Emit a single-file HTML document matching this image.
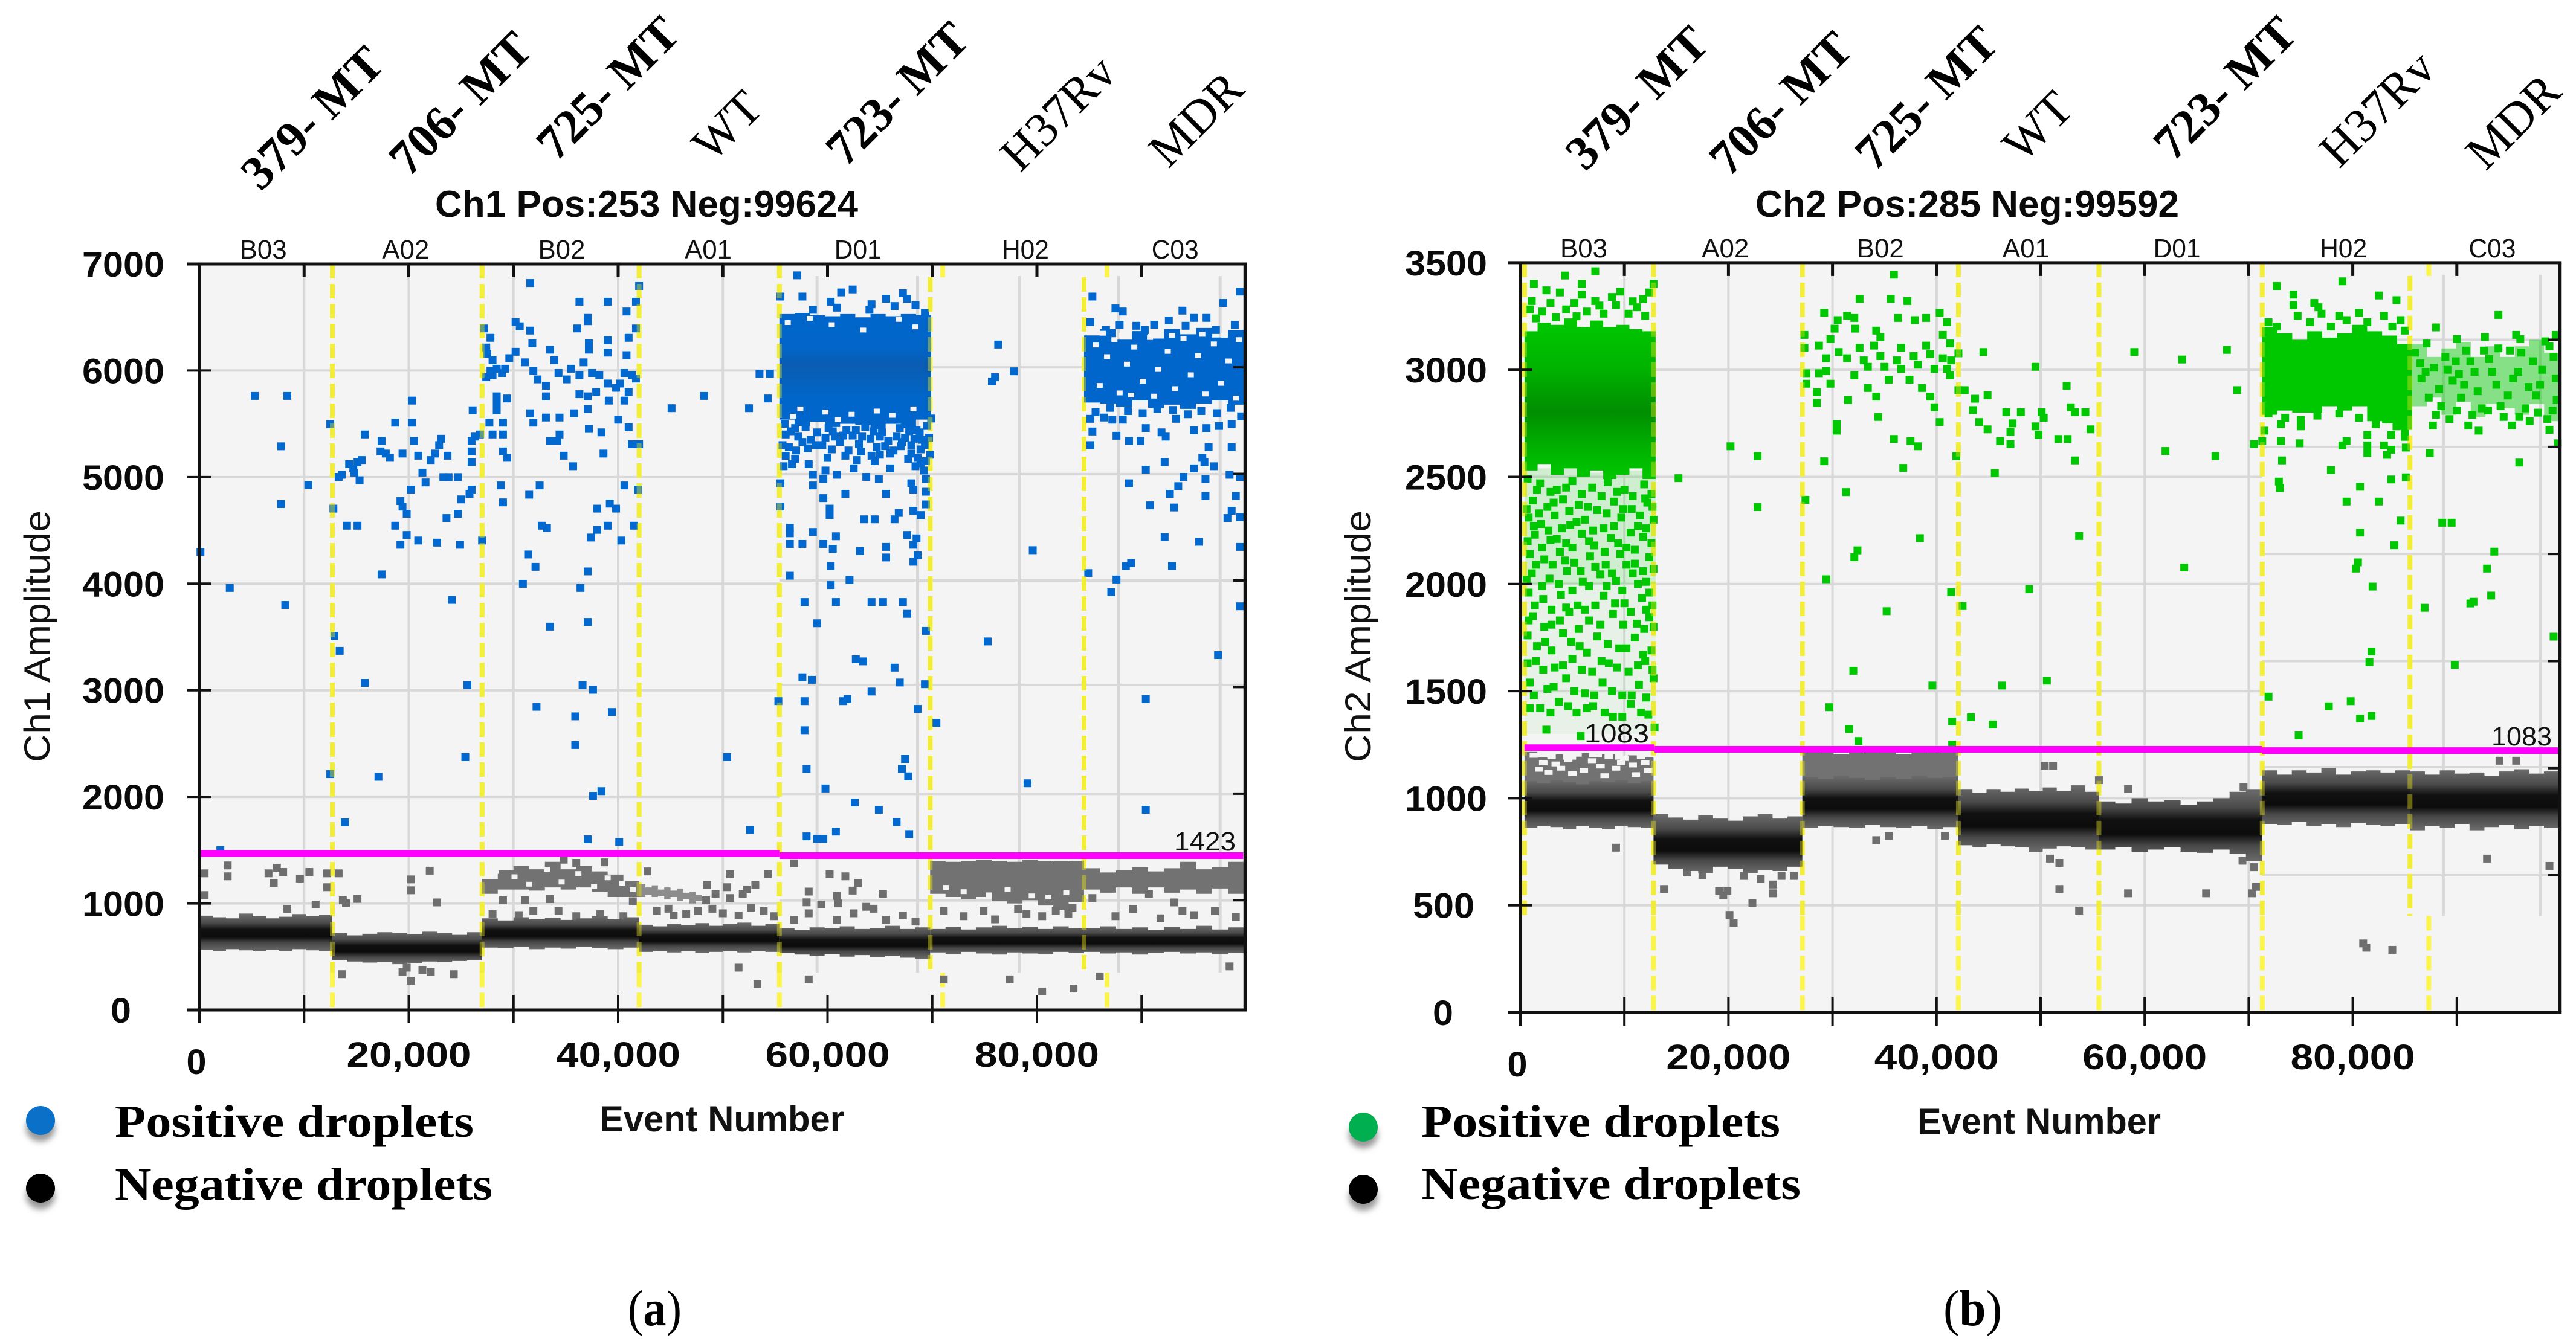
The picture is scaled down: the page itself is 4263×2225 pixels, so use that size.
<!DOCTYPE html>
<html lang="en">
<head>
<meta charset="utf-8">
<title>Droplet digital PCR amplitude plots</title>
<style>
html,body{margin:0;padding:0;background:#fff;width:4263px;height:2225px;overflow:hidden}
svg{display:block}
.tick{font-family:"Liberation Sans",Arial,sans-serif;font-weight:bold;font-size:58px;fill:#0a0a0a}
.well{font-family:"Liberation Sans",Arial,sans-serif;font-size:44px;fill:#111}
.title{font-family:"Liberation Sans",Arial,sans-serif;font-weight:bold;font-size:62px;fill:#0a0a0a}
.axis{font-family:"Liberation Sans",Arial,sans-serif;font-size:60px;fill:#111}
.axisb{font-family:"Liberation Sans",Arial,sans-serif;font-weight:bold;font-size:60px;fill:#111}
.leg{font-family:"Liberation Serif",serif;font-weight:bold;font-size:76px;fill:#000}
.rot{font-family:"Liberation Serif",serif;font-size:80px;fill:#000}
.rotb{font-family:"Liberation Serif",serif;font-weight:bold;font-size:80px;fill:#000}
.thr{font-family:"Liberation Sans",Arial,sans-serif;font-size:44px;fill:#111}
.cap{font-family:"Liberation Serif",serif;font-size:84px;fill:#000}
</style>
</head>
<body>
<svg id="figure" xmlns="http://www.w3.org/2000/svg" width="4263" height="2225" viewBox="0 0 4263 2225">
<defs>
<linearGradient id="negGrad" x1="0" y1="0" x2="0" y2="1">
<stop offset="0" stop-color="#6c6c6c"/><stop offset=".25" stop-color="#4a4a4a"/><stop offset=".42" stop-color="#111"/><stop offset=".62" stop-color="#0c0c0c"/><stop offset=".78" stop-color="#484848"/><stop offset="1" stop-color="#6c6c6c"/>
</linearGradient>
<linearGradient id="blueGrad" x1="0" y1="0" x2="0" y2="1">
<stop offset="0" stop-color="#0066cc"/><stop offset=".3" stop-color="#0265c8"/><stop offset=".45" stop-color="#0a5cb2"/><stop offset=".62" stop-color="#0563bf"/><stop offset=".75" stop-color="#0066cc"/><stop offset="1" stop-color="#0066cc"/>
</linearGradient>
<linearGradient id="greenGrad" x1="0" y1="0" x2="0" y2="1">
<stop offset="0" stop-color="#00c800"/><stop offset=".3" stop-color="#00b400"/><stop offset=".58" stop-color="#008e00"/><stop offset=".8" stop-color="#00b000"/><stop offset="1" stop-color="#00c800"/>
</linearGradient>
<filter id="soft" x="-40%" y="-40%" width="180%" height="180%"><feGaussianBlur stdDeviation="5"/></filter>
</defs>

<g id="panel-a"></g>
<g id="panel-b"></g>

<g>
<text class="title" x="720" y="359" textLength="700" lengthAdjust="spacingAndGlyphs">Ch1 Pos:253 Neg:99624</text>
<text class="axis" transform="translate(82,1262) rotate(-90)" textLength="417" lengthAdjust="spacingAndGlyphs">Ch1 Amplitude</text>
<text class="axisb" x="992" y="1873" textLength="405" lengthAdjust="spacingAndGlyphs">Event Number</text>
<text class="thr" x="1943" y="1408" textLength="102" lengthAdjust="spacingAndGlyphs">1423</text>
<ellipse cx="67" cy="1868" rx="24" ry="22" fill="#999" filter="url(#soft)"/>
<ellipse cx="67" cy="1855" rx="24" ry="24" fill="#0a70c8"/>
<text class="leg" x="190" y="1882" textLength="594" lengthAdjust="spacingAndGlyphs">Positive droplets</text>
<ellipse cx="67" cy="1980" rx="24" ry="22" fill="#999" filter="url(#soft)"/>
<ellipse cx="67" cy="1967" rx="24" ry="24" fill="#000"/>
<text class="leg" x="190" y="1986" textLength="625" lengthAdjust="spacingAndGlyphs">Negative droplets</text>
<text class="cap" x="1039" y="2194" textLength="89" lengthAdjust="spacingAndGlyphs">(<tspan font-weight="bold">a</tspan>)</text>
<g>
<text class="rotb" text-anchor="middle" transform="translate(516,194) rotate(-45)" y="28">379- MT</text>
<text class="rotb" text-anchor="middle" transform="translate(761,170) rotate(-45)" y="28">706- MT</text>
<text class="rotb" text-anchor="middle" transform="translate(1005,145) rotate(-45)" y="28">725- MT</text>
<text class="rot" text-anchor="middle" transform="translate(1202,207) rotate(-45)" y="28">WT</text>
<text class="rotb" text-anchor="middle" transform="translate(1484,154) rotate(-45)" y="28">723- MT</text>
<text class="rot" text-anchor="middle" transform="translate(1750,186) rotate(-45)" y="28">H37Rv</text>
<text class="rot" text-anchor="middle" transform="translate(1978,196) rotate(-45)" y="28">MDR</text>
</g>
</g>

<g>
<text class="title" x="2905" y="359" textLength="701" lengthAdjust="spacingAndGlyphs">Ch2 Pos:285 Neg:99592</text>
<text class="axis" transform="translate(2268,1262) rotate(-90)" textLength="417" lengthAdjust="spacingAndGlyphs">Ch2 Amplitude</text>
<text class="axisb" x="3173" y="1877" textLength="403" lengthAdjust="spacingAndGlyphs">Event Number</text>
<text class="thr" x="2622" y="1229" textLength="107" lengthAdjust="spacingAndGlyphs">1083</text>
<text class="thr" x="4123" y="1234" textLength="100" lengthAdjust="spacingAndGlyphs">1083</text>
<ellipse cx="2256" cy="1879" rx="24" ry="22" fill="#999" filter="url(#soft)"/>
<ellipse cx="2256" cy="1866" rx="24" ry="24" fill="#00b050"/>
<text class="leg" x="2352" y="1882" textLength="594" lengthAdjust="spacingAndGlyphs">Positive droplets</text>
<ellipse cx="2256" cy="1982" rx="24" ry="22" fill="#999" filter="url(#soft)"/>
<ellipse cx="2256" cy="1969" rx="24" ry="24" fill="#000"/>
<text class="leg" x="2352" y="1985" textLength="628" lengthAdjust="spacingAndGlyphs">Negative droplets</text>
<text class="cap" x="3216" y="2194" textLength="97" lengthAdjust="spacingAndGlyphs">(<tspan font-weight="bold">b</tspan>)</text>
<g>
<text class="rotb" text-anchor="middle" transform="translate(2708,161) rotate(-45)" y="28">379- MT</text>
<text class="rotb" text-anchor="middle" transform="translate(2946,170) rotate(-45)" y="28">706- MT</text>
<text class="rotb" text-anchor="middle" transform="translate(3187,161) rotate(-45)" y="28">725- MT</text>
<text class="rot" text-anchor="middle" transform="translate(3371,208) rotate(-45)" y="28">WT</text>
<text class="rotb" text-anchor="middle" transform="translate(3681,145) rotate(-45)" y="28">723- MT</text>
<text class="rot" text-anchor="middle" transform="translate(3933,179) rotate(-45)" y="28">H37Rv</text>
<text class="rot" text-anchor="middle" transform="translate(4158,200) rotate(-45)" y="28">MDR</text>
</g>
</g>
</svg>

<script>
/* ---------- Shared tick data (events in thousands) ---------- */
const xTickEvents = [0,10,20,30,40,50,60,70,80,90];
const xLabelEvents = [0,20,40,60,80];
const xLabelText = ["0","20,000","40,000","60,000","80,000"];
const wellNames = ["B03","A02","B02","A01","D01","H02","C03"];

/* ---------- Ch1 data ---------- */
const ch1YTicks = [0,1000,2000,3000,4000,5000,6000,7000];
const ch1WellLabelEvents = [6.1,19.7,34.6,48.6,62.9,78.9,93.2];
const ch1Dividers = [12.7,27,42,55.4,69.8,84.5];
const ch1LowerDividers = [12.7,27,42,55.4,71,86.7];
const ch1ShiftedGridEvents = [59,68.6,78.3,87.8,97.5];
const ch1ShiftedGridAmps = [1028,2028,3050,4030,5028,6030];
const ch1ThresholdStart = [0,55.4];
const ch1ThresholdEnd = [55.4,99.7];
const ch1ThresholdAmp = [1468,1448];
const ch1NegStart = [0,12.7,27,42,55.4,69.8,84.5];
const ch1NegEnd = [12.7,27,42,55.4,69.8,84.5,99.8];
const ch1NegTop = [
 [885,870,860,905,880,860,875,900,880,895],
 [720,700,715,730,725,710,735,720,705,730],
 [860,840,870,850,865,845,860,880,850,870],
 [800,785,810,795,815,790,805,820,790,810],
 [770,750,775,765,785,760,770,790,760,775],
 [760,780,755,775,790,765,780,760,785,770],
 [765,785,760,775,750,780,760,790,755,775]];
const ch1NegBottom = [
 [565,555,570,560,550,565,555,570,560,555],
 [470,455,445,450,430,440,455,450,460,465],
 [585,580,590,570,585,575,590,580,570,585],
 [545,555,540,550,535,545,555,540,550,545],
 [535,520,510,525,500,515,495,510,490,480],
 [540,525,545,530,520,540,530,525,545,535],
 [545,530,540,520,535,545,530,540,525,535]];
const ch1RainStart = [27,42,69.8,84.5];
const ch1RainEnd = [42,48,84.5,99.8];
const ch1RainTop = [
 [1230,1310,1350,1320,1390,1320,1350,1300,1270,1210],
 [1180,1150,1170,1130,1150,1120,1140,1100,1110,1080],
 [1400,1390,1400,1410,1400,1390,1410,1400,1395,1400],
 [1330,1290,1310,1340,1300,1330,1390,1320,1340,1390]];
const ch1RainBottom = [
 [1090,1130,1130,1120,1150,1130,1150,1110,1060,1060],
 [1060,1080,1060,1070,1040,1060,1020,1040,1000,1020],
 [1090,1060,1040,1060,1020,1000,1030,980,940,1010],
 [1130,1100,1150,1090,1150,1100,1130,1090,1140,1090]];
const ch1ClusterStart = [55.4,84.5];
const ch1ClusterEnd = [69.9,99.8];
const ch1ClusterTop = [
 [6530,6540,6520,6510,6530,6500,6530,6510,6530,6520],
 [6330,6390,6290,6370,6300,6390,6340,6400,6310,6380]];
const ch1ClusterBottom = [
 [5540,5480,5520,5470,5500,5490,5450,5500,5460,5540],
 [5700,5690,5660,5720,5650,5680,5640,5690,5720,5680]];
const ch1HazeStart = [];
const ch1HazeEnd = [];
const ch1HazeTop = [];
const ch1HazeBottom = [];
const ch1Gaps = [
[85.6,6240],[86.7,6130],[87.4,6290],[88.6,6060],[89.3,6220],[90.1,5900],[90.8,6310],[91.6,6010],[92.5,6180],[93.2,5830],[94,6300],[94.7,5960],[95.4,6140],[96.1,5780],[96.9,6250],[97.6,5880],[98.3,6090],[99,5740],[99.3,6290],[86,5860],[87.9,5790],[89,5770],[91.2,5760],[92.9,6330],[95.8,6340],[88.1,6330],[86.3,6350],[97.9,6330],
[56.2,6450],[58.3,6490],[60.4,6430],[63.4,6380],[66.8,6480],[68.4,6410],[57.4,5640],[59.8,5610],[62.3,5590],[64.7,5620],[66.2,5580],[68.2,5640],[56.7,5570],[61,5540],
[28.3,1300],[30.1,1250],[31.5,1180],[33.2,1320],[34.6,1200],[36.2,1280],[37.7,1160],[39,1240],[40.4,1190],[41.4,1130],
[73,1110],[75.4,1080],[77.2,1130],[79.5,1070],[81.1,1060],[82.8,1100],[71.3,1150]];
const ch1Positive = [
[.1,4298],[2.9,3960],[5.3,5762],[8.4,5762],[7.8,5289],[7.8,4747],[8.2,3800],[10.4,4926],[12.5,5496],[12.8,4704],[12.9,3510],[13.4,3370],[2,1500],
[15.8,5400],[13.3,5002],[13.6,5022],[14.3,5121],[14.7,5082],[15.1,5141],[15.5,5160],[14.8,5042],[15.3,4970],[14.1,4544],[15.1,4544],[17.4,5340],[17.3,5241],[17.8,5221],[18.2,5181],[18.7,5511],[20.3,5511],[20.3,5718],[20.5,5340],[19.4,5221],[20.9,5201],[23.1,5360],[22.9,5300],[22.5,5221],[23.7,5201],[22.1,5160],[21.3,5042],[21.6,4950],[23.3,5000],[23.8,5000],[24.7,5000],[20.2,4883],[19.2,4775],[19.4,4723],[19.8,4656],[18.7,4544],[19.8,4457],[20.9,4405],[22.7,4385],[19.2,4365],[24.9,4365],[17.4,4087],[24.1,3848],[23.6,4616],[24.7,4656],[25,4791],[25.8,4843],[26,4883],[26.1,5627],[26,5340],[26,5241],[26,5141],[26.3,5380],[26.8,5400],[27,4405],
[27.2,6395],[27.8,6307],[27.4,6216],[27.5,6156],[28,6097],[28.4,6017],[27.8,5997],[27.4,5937],[28,5957],[28.9,5977],[29.2,6017],[29.6,6116],[30.2,6176],[30.2,6455],[30.6,6415],[31.6,6375],[31.8,6256],[31.6,6821],[31.1,6077],[31.9,5997],[32.3,5917],[33.1,5858],[33.5,6196],[33.9,6097],[34.3,5977],[35.1,5917],[35.5,6017],[36.7,6077],[36.3,5957],[37.5,5977],[38.2,5957],[36.3,5778],[37.1,5758],[37.9,5798],[39,5878],[40.2,5878],[40.6,5977],[41.3,5957],[41.7,5925],[39.8,5838],[41,5798],[40.6,5718],[39.1,5718],[36.3,6646],[39,6646],[41.7,6646],[42,6793],[37.1,6494],[37.1,6463],[40.8,6554],[36.1,6395],[41.7,6395],[41,6307],[39,6284],[37.2,6256],[37.2,6196],[39,6168],[40.8,6144],[28.4,5758],[29.4,5738],[28.4,5699],[28.4,5627],[31.6,5599],[33.1,5758],[33.1,5559],[34.4,5559],[35.8,5599],[37.1,5639],[40,5539],[27.7,5511],[29,5511],[31.9,5511],[28,5400],[29,5400],[37.2,5452],[38.4,5420],[41,5468],[34.4,5400],[33.5,5340],[34.2,5340],[41.3,5308],[42,5308],[38.6,5221],[29.4,5181],[29,5241],[34.8,5201],[35.7,5102],[28.8,4922],[32.5,4922],[31.5,4835],[40.6,4922],[41.9,4883],[29,4763],[39.2,4751],[38,4704],[39.8,4704],[32.7,4544],[33.2,4524],[39,4544],[41.5,4544],[38,4505],[37.4,4433],[40.3,4405],[31.4,4274],[32.1,4158],[37.1,4115],[30.9,3999],[36.4,3960],[33.5,3597],[37.1,3641],
[45.1,5647],[48.2,5762],[52.5,5647],[53.5,5969],[54.5,5969],[54.3,5738],
[12.5,2213],[13.9,1760],[15.8,3069],[17.1,2188],[25.6,3049],[25.4,2372],[32.2,2845],[35.9,2755],[36.6,3049],[37.6,3004],[39.4,2796],[35.9,2486],[37.6,2009],[38.4,2053],[37.1,1601],[40.1,1576],[50.4,2372],[52.6,1690],
[57.6,3122],[58.5,3098],[55.3,2898],[57.8,2898],[61.5,2898],[61.9,2918],[64.2,2988],[66.4,3212],[66.9,3073],[69.3,3057],[68.6,2825],[70.4,2694],[57.8,2625],[58,2262],[67.4,2355],[67.1,2262],[67.7,2192],[59.8,2078],[62.6,1947],[64.9,1878],[66.6,1764],[67.8,1650],[60.8,1674],[58,1629],[59,1605],[59.6,1605],
[79.1,2127],[90.4,2918],[90.4,1878],
[57.1,6893],[55.5,6694],[57.6,6694],[61.3,6733],[62.4,6761],[60.3,6646],[67.2,6725],[67.6,6674],[65.6,6674],[64.2,6622],[68.4,6614],[64,6570],[60.9,6590],[58.6,6570],[66.4,6605],[69.3,6540],
[55.9,5500],[56.5,5430],[57.2,5380],[57.9,5470],[58.4,5350],[59,5420],[59.5,5300],[60.1,5460],[60.7,5380],[61.2,5330],[61.8,5440],[62.4,5390],[63,5310],[63.6,5470],[64.1,5360],[64.7,5280],[65.2,5420],[65.8,5340],[66.3,5250],[66.9,5460],[67.4,5370],[68,5300],[68.5,5440],[69,5350],[69.5,5480],[55.7,5300],[56.3,5280],[57,5250],[58.1,5270],[60.4,5260],[62,5250],[63.2,5240],[65,5210],[67,5290],[68.9,5260],[69.7,5370],[69.9,5550],
[56,5400],[56.9,5460],[57.6,5330],[58.9,5300],[59.8,5370],[60.5,5430],[61.5,5390],[62.7,5440],[63.3,5380],[64.4,5430],[65,5380],[65.5,5290],[66.6,5380],[67.1,5330],[67.8,5430],[68.3,5360],[68.8,5420],[69.3,5300],[69.8,5210],[69.4,5150],[68.6,5180],[67.7,5170],[68.9,5130],[56,5200],[56.9,5170],[60,5180],[62.8,5160],[64.5,5150],
[55.8,5102],[56.6,5121],[55.5,4942],[55.5,4724],[58.2,5121],[58.6,5022],[59.8,5062],[61.7,5201],[64.2,5201],[66,5221],[68,5221],[68.4,5102],[69.2,5062],[69.4,4982],[62.5,5082],[63.7,5002],[64.9,4982],[66,5082],[59.6,4982],[60.9,5022],[58.6,4922],[61.7,4843],[65.6,4843],[68,4942],[68.2,4883],[59.6,4803],[60.2,4704],[60.2,4644],[63.5,4604],[64.5,4604],[66.8,4664],[66.4,4604],[68.2,4684],[68.9,4644],[69.4,4744],[69.4,4863],
[56.4,4524],[56.4,4473],[58.6,4485],[60.8,4445],[56.4,4373],[57.6,4373],[59.6,4373],[60.5,4326],[63.1,4306],[65.6,4345],[67.6,4457],[68.5,4425],[68.2,4365],[65.6,4246],[68.6,4266],[68.2,4206],[60.3,4166],[56.4,4075],[62.1,4035],[60.3,3987],[57.8,3828],[60.8,3828],[64.2,3828],[65.3,3828],[67.2,3828],[67.6,3717],[59,3629],[69.4,3557],[62.7,3291],[63.4,3271],
[76.3,6244],[77.8,5993],[75.7,5898],[76,5937],[79.6,4314],[75.3,3458],
[85.3,6694],[87.5,6583],[88.2,6554],[93.9,6562],[97.8,6634],[99.4,6741],[95,6494],[96.2,6494],[85.1,6455],[89.5,6420],[91.2,6430],[92.6,6470],[98.9,6430],[86.6,6380],[87.9,6430],[90.3,6380],[94.2,6420],[97.1,6380],
[85.1,5547],[86.4,5559],[87.2,5539],[88.2,5539],[85.3,5428],[87.6,5388],[88.8,5340],[89.9,5340],[90.4,5460],[91.9,5420],[92.3,5380],[93.3,5547],[85.1,5300],[95,5440],[96.2,5460],[97.4,5480],[98.6,5499],[98.6,5281],[96.4,5281],[95.8,5181],[96,5141],[96.9,5102],[95,5082],[92.2,5141],[90.4,5070],[98.4,5022],[99.4,5002],[94,5002],[96.1,4982],[88.8,4942],[93.5,4915],[92.7,4843],[96.1,4823],[99,4823],[90.8,4735],[93.1,4715],[98.6,4684],[99.4,4624],[98.2,4616],[92.2,4437],[95.5,4393],[99.4,4345],[88.5,4166],[89,4194],[92.9,4166],[84.9,4099],[87.6,4039],[87.1,3920],[99.4,3788],[97.3,3330],
[85.6,5610],[87,5650],[88.7,5620],[90.1,5600],[91.5,5640],[93,5630],[94.4,5590],[95.7,5620],[97.2,5600],[98.5,5650],[99.5,5570]];
const ch1Negative = [
[.5,1282],[2.7,1356],[2.7,1254],[.5,1078],[6.6,1282],[7.4,1335],[8,1295],[7.1,1193],[9.6,1233],[10.5,1295],[12.2,1152],[12.2,1282],[13.3,1282],[8.4,948],[11.1,989],
[13.7,1029],[15.1,1042],[14,1001],[20.2,1225],[22,1307],[20.2,1123],[22.7,1009],[13.6,336],[19.4,356],[20.2,275],[22.1,356],[24.3,336],[19.8,397],[21.3,377],
[48.5,1172],[49.3,1090],[50.4,1152],[50.7,1274],[52.3,1131],[53.1,1172],[54.3,1274],[48.4,1029],[50.7,1050],[51.9,1091],[43.7,927],[45.3,887],[47.6,927],[50,907],[51.5,887],[53.9,927],[44.8,950],[46.5,900],[49,950],[52.7,960],[54.9,880],[51.5,397],[53.3,242],[58.2,287],
[56.8,1376],[60.2,1274],[61.7,1254],[62.9,1193],[58.2,1111],[60.9,1070],[65.3,1091],[59.4,989],[63.7,968],[62.5,907],[67.2,887],[58.2,907],[56.8,846],[60.9,846],[65.6,846],[58,1010],[61,1000],[62.4,1120],[64.4,950],[68.4,830],
[71.1,927],[74.9,927],[78.2,948],[71.1,287],[77.4,287],[80.5,173],[83.5,201],[79,900],[80.5,880],[81.8,930],[83,900],[83.4,960],[73,880],[76,850],
[93.1,1009],[93.9,927],[85.3,1050],[90.7,1091],[89.2,948],[97,927],[98.4,409],[86,315],[87.5,880],[91.8,860],[95,890],[99,870],
[29,1029],[31.1,1029],[31.9,927],[34.3,927],[28,900],[33.5,1040],[36,880],[38.3,900],[40.5,880],[41.4,1020],[30.5,890],[36,1380],[38.7,1385],[34.8,1410],[42.8,1300]];

/* ---------- Ch2 data ---------- */
const ch2YTicks = [0,500,1000,1500,2000,2500,3000,3500];
const ch2WellLabelEvents = [6.1,19.7,34.6,48.6,63.1,79.1,93.4];
const ch2Dividers = [.4,12.8,27.1,42.1,55.6,71.3,85.5];
const ch2LowerDividers = [12.8,27.1,42.1,55.6,71.3,87.3];
const ch2ShiftedGridEvents = [88.7,98];
const ch2ShiftedGridAmps = [640,1145,1640,2140,2640,3140];
const ch2ThresholdStart = [.4,12.9,71.3];
const ch2ThresholdEnd = [12.9,71.3,99.8];
const ch2ThresholdAmp = [1236,1228,1222];
const ch2NegStart = [.4,12.8,27.1,42.1,55.6,71.3,85.5];
const ch2NegEnd = [12.8,27.1,42.1,55.6,71.3,85.5,99.8];
const ch2NegTop = [
 [1080,1070,1085,1075,1065,1080,1075,1085,1070,1080],
 [925,910,900,920,905,895,915,925,905,915],
 [1100,1090,1105,1095,1085,1100,1090,1105,1095,1100],
 [1040,1025,1040,1030,1045,1035,1050,1035,1060,1030],
 [985,975,1000,985,990,970,985,1000,1030,1040],
 [1130,1110,1130,1120,1140,1110,1125,1130,1120,1130],
 [1125,1110,1130,1115,1120,1105,1125,1135,1115,1125]];
const ch2NegBottom = [
 [860,870,865,855,870,860,855,870,865,860],
 [690,670,660,650,680,670,650,665,660,680],
 [860,870,865,860,875,865,860,870,855,865],
 [780,770,785,775,770,750,765,775,770,760],
 [760,770,750,760,770,750,745,760,740,705],
 [880,875,890,870,880,865,885,875,870,880],
 [850,870,860,880,850,865,875,855,870,860]];
const ch2RainStart = [.4,27.1];
const ch2RainEnd = [12.8,42.1];
const ch2RainTop = [
 [1216,1190,1205,1180,1210,1190,1205,1180,1200,1190],
 [1210,1215,1205,1220,1210,1215,1205,1218,1210,1212]];
const ch2RainBottom = [
 [1060,1060,1060,1060,1060,1060,1060,1060,1060,1060],
 [1080,1080,1080,1080,1080,1080,1080,1080,1080,1080]];
const ch2ClusterStart = [.4,71.3];
const ch2ClusterEnd = [13,85.7];
const ch2ClusterTop = [
 [3180,3220,3210,3240,3200,3230,3200,3210,3190,3180],
 [3200,3170,3140,3180,3150,3170,3210,3180,3160,3120]];
const ch2ClusterBottom = [
 [2530,2560,2510,2540,2500,2530,2490,2510,2540,2490],
 [2790,2810,2800,2800,2830,2810,2830,2760,2750,2720]];
const ch2HazeStart = [.4,.4,85.7];
const ch2HazeEnd = [13,13,99.8];
const ch2HazeTop = [
 [2530,2540,2520,2540,2530,2520,2540,2520,2530,2510],
 [2010,2010,2000,2010,2005,2010,2000,2010,2005,2010],
 [3120,3060,3100,3130,3060,3110,3060,3110,3140,3080]];
const ch2HazeBottom = [
 [2000,2000,2000,2000,2000,2000,2000,2000,2000,2000],
 [1300,1300,1300,1300,1300,1300,1300,1300,1300,1300],
 [2830,2870,2790,2850,2780,2840,2820,2790,2840,2760]];
const ch2Gaps = [
[1.3,1200],[2.2,1165],[3,1195],[3.9,1140],[4.6,1180],[5.5,1205],[6.1,1130],[6.9,1175],[7.7,1150],[8.5,1195],[9.2,1140],[10,1185],[10.8,1155],[11.6,1195],[12.3,1130],[2.7,1120],[5,1115],[8.1,1105],[11.1,1110],[1.8,1135],[3.4,1160],[7.2,1205],[9.7,1165],[12,1165]];
const ch2Positive = [
[7.2,3460],[4.3,3440],[1.3,3401],[2.5,3371],[3.8,3361],[5.9,3401],[5.9,3351],[9.6,3365],[12.4,3361],[12.8,3401],[1.1,3321],[2.9,3312],[5.2,3312],[7.2,3321],[9.2,3302],[11.2,3292],[.9,3282],[2.1,3272],[4.4,3282],[6.4,3272],[8,3262],[10.4,3262],[12,3252],[1.5,3240],[3.4,3245],[5.4,3250],[7.6,3300],[8.8,3340],[10.8,3320],[11.8,3330],
[.7,2490],[1.9,2470],[3.5,2440],[5,2480],[6.9,2450],[8.4,2475],[10,2440],[11.9,2465],[12.6,2420],[1.2,2390],[2.6,2360],[4.1,2395],[5.6,2370],[7.4,2345],[9,2385],[10.7,2350],[12.2,2380],[.8,2310],[2,2280],[3.3,2320],[4.8,2275],[6.2,2300],[8,2260],[9.7,2310],[11.3,2270],[12.8,2300],[1.4,2230],[2.9,2205],[4.4,2190],[5.9,2235],[7.1,2180],[8.7,2215],[10.2,2170],[11.8,2220],[.9,2140],[2.3,2115],[3.8,2150],[5.2,2100],[6.7,2130],[8.2,2090],[9.6,2140],[11,2095],[12.4,2125],[1.1,2050],[2.8,2025],[4.5,2060],[6,2010],[7.7,2045],[9.2,2015],[10.8,2050],[12.1,2010],
[.8,1960],[2.2,1930],[3.9,1950],[5.5,1900],[8,1945],[10,1910],[11.7,1935],[12.7,1900],[1.2,1850],[3,1810],[4.7,1870],[6.6,1830],[8.9,1860],[11.2,1815],[12.4,1845],[.7,1760],[2.4,1730],[4.1,1770],[5.7,1710],[7.4,1755],[9.5,1700],[11,1750],[12.6,1690],[1.5,1640],[3.3,1610],[5,1650],[6.9,1590],[8.5,1630],[10.4,1590],[12,1640],[.9,1540],[2.6,1510],[4.4,1560],[6.2,1490],[7.9,1540],[9.8,1480],[11.4,1530],[12.8,1560],[1.9,1420],[3.7,1450],[5.4,1400],[7,1430],[8.9,1380],[10.6,1440],[12.3,1390],[2.5,1320],[5.8,1290],[12.9,1330],
[1.6,2440],[2.9,2430],[4.4,2450],[5.9,2420],[7.8,2410],[9.3,2430],[10.8,2410],[12,2400],[.6,2350],[1.8,2330],[3.2,2380],[4.7,2340],[6.5,2360],[8.3,2330],[9.9,2350],[11.5,2320],[12.7,2360],[1.3,2270],[2.7,2250],[4,2260],[5.4,2290],[7,2250],[9,2270],[10.6,2240],[12.1,2260],[.7,2200],[2.1,2170],[3.5,2210],[5,2170],[6.6,2200],[8.1,2150],[9.4,2190],[11,2160],[12.6,2190],[1.5,2090],[3.1,2090],[4.3,2110],[5.8,2060],[7.2,2080],[8.8,2050],[10.2,2090],[11.8,2060],[12.8,2070],[.6,2020],[2.1,1990],[3.7,2000],[5,1970],[6.6,1990],[8.3,1990],[9.8,1970],[11.3,2000],[12.4,1960],
[1.4,1900],[3,1880],[4.4,1890],[6.2,1880],[7.2,1900],[9.1,1910],[10.6,1870],[12.1,1880],[.8,1830],[2.3,1800],[3.8,1830],[5.6,1790],[7.7,1810],[9.9,1810],[11.9,1790],[12.8,1800],[1.6,1710],[3,1690],[4.9,1730],[6.4,1680],[8.4,1720],[10.2,1700],[11.8,1670],[.7,1630],[2.2,1600],[4.1,1620],[5.9,1600],[7.8,1640],[9.3,1610],[11.3,1620],[12.7,1600],[1.3,1480],[3.2,1520],[5.2,1500],[7.1,1480],[8.8,1500],[10.7,1480],[12.1,1470],[.9,1420],[2.9,1400],[4.6,1430],[6.4,1420],[8.1,1400],[9.8,1380],[11.6,1400],
[20.2,2643],[22.8,2597],[15.2,2494],[22.8,2359],
[27.3,3163],[29.2,3266],[30.5,3232],[31.4,3252],[32.1,3242],[32.6,3331],[35.6,3331],[37.2,3321],[35.9,3444],[36.3,3242],[37.9,3232],[39,3242],[40.3,3266],[30.2,3192],[32.2,3192],[34.2,3183],[34.6,3153],[29.8,3143],[41,3222],[40.6,3163],[41.3,3123],[28.7,3113],[27.3,3103],[30.6,3083],[32.6,3103],[34,3113],[36.6,3103],[39,3113],[29.4,3054],[31.4,3054],[33,3044],[34.6,3064],[36.2,3044],[37.8,3064],[39.4,3073],[40.6,3054],[41.4,3044],[42.1,3077],[27.5,2984],[28.7,2984],[29.4,2994],[32.1,2974],[33.4,3014],[35,3014],[36.6,3004],[38.2,3024],[39.8,3004],[41,3004],[41.3,2974],[27.5,2935],[29.8,2935],[35.4,2954],[37.4,2954],[38.6,2915],[39.4,2875],[33.4,2915],[34.2,2875],[28.5,2895],[28.5,2845],[31.5,2859],[39.8,2825],[34.4,2780],[40.3,2756],[30.4,2746],[30.4,2716],[35.9,2677],[37.5,2667],[38.2,2643],[41.9,2597],[29.2,2573],[36.8,2542],[27.4,2393],[31.3,2429],[38.4,2214],[32.4,2157],[32.1,2125],[29.4,2022],[41.4,1962],[42.5,1897],[35.2,1873],[32,1595],[29.7,1425],[31.6,1323],[32.5,1267],[39.6,1526],[41.5,1358],[41.5,1250],
[44.5,3083],[49.5,3014],[52.5,2925],[42.1,2905],[42.7,2905],[44.9,2881],[43.7,2865],[43.5,2812],[46.7,2802],[48.1,2802],[50.1,2802],[52.9,2825],[53.3,2802],[54.3,2802],[44.1,2756],[47.3,2750],[50.3,2776],[44.9,2722],[47.1,2710],[49.5,2736],[49.8,2696],[54.8,2722],[46.1,2667],[47.1,2653],[51.7,2677],[52.6,2677],[53.3,2577],[45.6,2518],[53.7,2224],[48.9,1976],[43.3,1378],[45.4,1344],[46.3,1526],[50.6,1549],
[59,3083],[63.6,3048],[67.9,3093],[68.9,2905],[62,2621],[66.8,2597],[70.5,2653],[63.8,2077],
[72.7,3391],[79,3413],[74.3,3351],[82.5,3347],[84.2,3325],[76.3,3312],[74.3,3302],[76.7,3292],[80.6,3266],[77,3262],[78.7,3252],[83,3252],[71.9,3222],[74.7,3252],[75.9,3222],[79.4,3232],[81.4,3222],[84.6,3232],[72.7,3202],[77.9,3202],[83.8,3202],[85,3183],
[71.9,2796],[73.5,2776],[75,2766],[76.6,2786],[78.7,2796],[80.6,2776],[82.6,2796],[84.6,2776],[73.1,2746],[75,2736],[71.5,2716],[82.2,2746],[84.2,2736],[85,2716],[81.4,2696],[83.7,2696],[85,2687],[79.4,2667],[71.3,2667],[73.1,2667],[74.9,2657],[81.4,2647],[83,2647],[79,2647],[85.1,2637],[83.7,2627],[81.4,2611],[83.3,2603],[73.2,2577],[77.9,2532],[85.1,2498],[83.7,2488],[72.9,2478],[73,2448],[80.7,2454],[79.4,2385],[82.5,2385],[84.6,2296],[80.7,2240],[84,2181],[80.5,2101],[80.3,2072],[81.9,1988],[81.8,1685],[81.6,1635],[71.9,1474],[74.8,1293],[77.7,1429],[79.8,1453],[80.7,1372],[81.8,1384],
[94,3256],[88,3198],[87.1,3123],[90,3143],[92.7,3153],[95.7,3163],[96.1,3143],[99.5,3163],[98.5,3133],[87.4,2611],[96,2567],[88.6,2286],[89.5,2286],[93.6,2151],[92.9,2072],[93.3,1946],[91.3,1909],[91.6,1917],[86.9,1889],[99.3,1754],[89.8,1622],[99.7,2657],[92.1,2716],[91.1,2740],
[86,3080],[86.6,2960],[87.3,2870],[88,2790],[88.9,3060],[89.6,2950],[90.4,2870],[90.9,3090],[91.7,2990],[92.4,2820],[93.1,3050],[93.8,2930],[94.5,2780],[95.1,3090],[95.9,2990],[96.6,2820],[97.3,3040],[98,2930],[98.7,2770],[99.3,3060],[99.6,2860],[97,2760],[95.3,2740],[89.3,2770],[87.7,2740],[98.9,2720],
[86.5,3030],[87,2990],[87.8,3010],[88.3,2910],[89.1,3000],[89.9,3040],[90.2,2980],[90.7,2930],[91.3,3040],[92,2900],[92.6,3090],[93.4,2990],[94,3100],[94.9,2880],[95.4,2960],[96.2,3080],[96.9,2920],[97.6,2880],[98.2,3000],[98.9,3110],[99.5,2960],[88.5,2830],[90,2810],[91.5,2790],[93,2810],[94.2,2830],[96,2780],[97.8,2800],[99.2,2810]];
const ch2Negative = [
[13.8,576],[19.1,566],[19.9,566],[19.5,546],[22.3,509],[20.1,455],[20.5,418],[24.3,597],[24.3,556],[23.1,623],[21.5,637],[25.1,637],[26.3,637],[16,653],[17.5,641],
[51.8,576],[51.8,698],[50.9,718],[53.7,475],[58.4,556],[65.9,556],[70.3,556],[70.7,586],[70.5,678],[69.4,708],[81,322],[81.3,302],[83.8,292],[92.9,718],[98.9,684],[34.2,804],[35.4,824],[40.8,824],[51.2,1151],[50.4,1151],[55.6,1084],[58.4,1043],[69.5,1053],[9.2,769],[95.7,1175],[94.1,1175]];

/* ---------- Scales ---------- */
const NS = 'http://www.w3.org/2000/svg';
const panelA = document.getElementById('panel-a');
const panelB = document.getElementById('panel-b');
const xA = k => 330 + k * 17.325;
const yA = v => 1672 - v * 0.17643;
const xB = k => 2516 + k * 17.22;
const yB = v => 1676 - v * 0.3546;

function make(tag, parent, props){
  const el = document.createElementNS(NS, tag);
  for (const key in props) el.setAttribute(key, props[key]);
  parent.appendChild(el);
  return el;
}
function steppedPath(x, y, start, end, top, bottom){
  const n = top.length, w = (end - start) / n;
  let up = '', down = '';
  for (let i = 0; i < n; i++){
    const a = x(start + i * w), b = x(start + (i + 1) * w);
    up += a + ',' + y(top[i]) + ' ' + b + ',' + y(top[i]) + ' ';
    down = b + ',' + y(bottom[i]) + ' ' + a + ',' + y(bottom[i]) + ' ' + down;
  }
  return up + down;
}

function drawPanel(g, x, y, cfg){
  const x1 = x(0), x2 = x(99.9), yTop = y(cfg.yMax), yBot = y(0);
  const bg = make('rect', g, {x:x1, y:yTop, width:x2 - x1, height:yBot - yTop, fill:'#f4f4f4'});
  
  

  /* gridlines */
  cfg.yTicks.forEach(v => {
    if (v === 0 || v === cfg.yMax) return;
    const line = make('line', g, {x1:x1, x2:x(cfg.split), y1:y(v), y2:y(v), stroke:'#d8d8d8', 'stroke-width':4});
    
    
  });
  cfg.shiftedAmps.forEach(v => {
    const line = make('line', g, {x1:x(cfg.split), x2:x2, y1:y(v), y2:y(v), stroke:'#d8d8d8', 'stroke-width':4});
    
    
  });
  xTickEvents.forEach(k => {
    if (k === 0 || k >= cfg.split) return;
    const line = make('line', g, {x1:x(k), x2:x(k), y1:yTop, y2:yBot, stroke:'#d8d8d8', 'stroke-width':4});
    
    
  });
  cfg.shiftedEvents.forEach(k => {
    const line = make('line', g, {x1:x(k), x2:x(k), y1:yTop + 20, y2:y(cfg.gridFloor), stroke:'#d8d8d8', 'stroke-width':5});
    
    
  });

  /* yellow well dividers, under the droplets */
  const divTop = cfg.dividers, divLow = cfg.lowerDividers;
  const dash = {stroke:'#fbf44a', 'stroke-width':8, 'stroke-dasharray':'24 9'};
  divTop.forEach(k => {
    const line = make('line', g, Object.assign({x1:x(k), x2:x(k), y1:k > cfg.split ? yTop + 22 : yTop, y2:y(cfg.gridFloor)}, dash));
    
    
  });
  divLow.forEach(k => {
    const line = make('line', g, Object.assign({x1:x(k), x2:x(k), y1:y(cfg.gridFloor), y2:yBot}, dash));
    
    
    if (divTop.indexOf(k) < 0){
      const stub = make('line', g, {x1:x(k), x2:x(k), y1:yTop, y2:yTop + 22, stroke:'#fbf44a', 'stroke-width':8});
      
      
    }
  });

  /* translucent clouds of unresolved droplets */
  cfg.hazeStart.forEach((s, i) => {
    const poly = make('polygon', g, {points:steppedPath(x, y, s, cfg.hazeEnd[i], cfg.hazeTop[i], cfg.hazeBottom[i]), fill:cfg.pointColor, opacity:cfg.hazeOpacity[i]});
    
    
  });
  /* solid positive clusters */
  cfg.clusterStart.forEach((s, i) => {
    const poly = make('polygon', g, {points:steppedPath(x, y, s, cfg.clusterEnd[i], cfg.clusterTop[i], cfg.clusterBottom[i]), fill:cfg.clusterFill[i]});
    
    
  });
  /* positive droplets */
  cfg.positive.forEach(p => {
    const el = make('rect', g, {x:x(p[0]) - 6.5, y:y(p[1]) - 6.5, width:13, height:13, fill:cfg.pointColor});
    
    
  });
  /* rain bands */
  cfg.rainStart.forEach((s, i) => {
    const poly = make('polygon', g, {points:steppedPath(x, y, s, cfg.rainEnd[i], cfg.rainTop[i], cfg.rainBottom[i]), fill:'#727272', opacity:cfg.rainOpacity[i]});
    
    
  });
  /* empty pockets inside the dense droplet clouds */
  cfg.gaps.forEach(p => {
    const el = make('rect', g, {x:x(p[0]) - cfg.gapW / 2, y:y(p[1]) - 4, width:cfg.gapW, height:8, fill:'#f4f4f4'});
    
    
  });
  /* negative droplets */
  cfg.negative.forEach(p => {
    const el = make('rect', g, {x:x(p[0]) - 6.5, y:y(p[1]) - 6.5, width:13, height:13, fill:'#6e6e6e'});
    
    
  });
  cfg.negStart.forEach((s, i) => {
    const poly = make('polygon', g, {points:steppedPath(x, y, s, cfg.negEnd[i], cfg.negTop[i], cfg.negBottom[i]), fill:'url(#negGrad)'});
    
    
  });
  /* faint divider overlay so droplets look tinted */
  divTop.forEach(k => {
    const line = make('line', g, {x1:x(k), x2:x(k), y1:k > cfg.split ? yTop + 22 : yTop, y2:y(cfg.gridFloor), stroke:'#e8e420', 'stroke-width':8, 'stroke-dasharray':'24 9', opacity:.42});
    
    
  });
  /* threshold line */
  cfg.thrStart.forEach((s, i) => {
    const line = make('line', g, {x1:x(s), x2:x(cfg.thrEnd[i]), y1:y(cfg.thrAmp[i]), y2:y(cfg.thrAmp[i]), stroke:'#ff00ff', 'stroke-width':11});
    
    
  });

  /* frame */
  [[x1,yTop,x1,yBot,5],[x1 - 20,yTop,x2 + 3,yTop,5],[x1 - 20,yBot,x2 + 3,yBot,5],[x2,yTop,x2,yBot,6]].forEach(c => {
    const line = make('line', g, {x1:c[0], y1:c[1], x2:c[2], y2:c[3], stroke:'#111', 'stroke-width':c[4]});
    
    
  });

  /* ticks */
  cfg.yTicks.forEach((v, i) => {
    const tick = make('line', g, {x1:x1 - 20, x2:x1 + 20, y1:y(v), y2:y(v), stroke:'#111', 'stroke-width':4});
    
    
    const label = make('text', g, {class:'tick', x:(v === 0 ? cfg.zeroYLabelX : (String(v).length < 4 ? cfg.shortYLabelX : cfg.yLabelX)), y:y(v) + 21, 'text-anchor':'end', textLength:(String(v).length * 34), lengthAdjust:'spacingAndGlyphs'});
    label.textContent = String(v);
    
    
    if (v !== 0 && v !== cfg.yMax){
      const rt = make('line', g, {x1:x2 - 20, x2:x2, y1:y(v + cfg.rightTickShift), y2:y(v + cfg.rightTickShift), stroke:'#111', 'stroke-width':4});
      
      
    }
  });
  xTickEvents.forEach(k => {
    const low = make('line', g, {x1:x(k), x2:x(k), y1:yBot - 25, y2:yBot + 22, stroke:'#111', 'stroke-width':4});
    
    
    const high = make('line', g, {x1:x(k), x2:x(k), y1:yTop, y2:yTop + 22, stroke:'#111', 'stroke-width':5});
    
    
  });
  xLabelEvents.forEach((k, i) => {
    const isZero = k === 0;
    const label = make('text', g, {class:'tick', x:isZero ? x(k) - 5 : x(k), y:isZero ? yBot + 106 : yBot + 94, 'text-anchor':'middle', textLength:isZero ? 33 : 206, lengthAdjust:'spacingAndGlyphs'});
    label.textContent = xLabelText[i];
    
    
  });

  /* well labels */
  wellNames.forEach((name, i) => {
    const label = make('text', g, {class:'well', x:x(cfg.wellEvents[i]), y:yTop - 9, 'text-anchor':'middle', textLength:78, lengthAdjust:'spacingAndGlyphs'});
    label.textContent = name;
    
    
  });
}

drawPanel(panelA, xA, yA, {
  yMax:7000, yTicks:ch1YTicks, split:55.4, shiftedEvents:ch1ShiftedGridEvents, shiftedAmps:ch1ShiftedGridAmps, gridFloor:350, rightTickShift:30,
  dividers:ch1Dividers, lowerDividers:ch1LowerDividers, wellEvents:ch1WellLabelEvents,
  hazeStart:ch1HazeStart, hazeEnd:ch1HazeEnd, hazeTop:ch1HazeTop, hazeBottom:ch1HazeBottom, hazeOpacity:[],
  clusterStart:ch1ClusterStart, clusterEnd:ch1ClusterEnd, clusterTop:ch1ClusterTop, clusterBottom:ch1ClusterBottom, clusterFill:['url(#blueGrad)','#0066cc'],
  rainStart:ch1RainStart, rainEnd:ch1RainEnd, rainTop:ch1RainTop, rainBottom:ch1RainBottom, rainOpacity:[1,.8,1,1],
  positive:ch1Positive, negative:ch1Negative, pointColor:'#0068cf', gaps:ch1Gaps, gapW:10,
  negStart:ch1NegStart, negEnd:ch1NegEnd, negTop:ch1NegTop, negBottom:ch1NegBottom,
  thrStart:ch1ThresholdStart, thrEnd:ch1ThresholdEnd, thrAmp:ch1ThresholdAmp,
  yLabelX:272, shortYLabelX:272, zeroYLabelX:217
});
drawPanel(panelB, xB, yB, {
  yMax:3500, yTicks:ch2YTicks, split:71.3, shiftedEvents:ch2ShiftedGridEvents, shiftedAmps:ch2ShiftedGridAmps, gridFloor:450, rightTickShift:140,
  dividers:ch2Dividers, lowerDividers:ch2LowerDividers, wellEvents:ch2WellLabelEvents,
  hazeStart:ch2HazeStart, hazeEnd:ch2HazeEnd, hazeTop:ch2HazeTop, hazeBottom:ch2HazeBottom, hazeOpacity:[.15,.05,.45],
  clusterStart:ch2ClusterStart, clusterEnd:ch2ClusterEnd, clusterTop:ch2ClusterTop, clusterBottom:ch2ClusterBottom, clusterFill:['url(#greenGrad)','#00c800'],
  rainStart:ch2RainStart, rainEnd:ch2RainEnd, rainTop:ch2RainTop, rainBottom:ch2RainBottom, rainOpacity:[1,1],
  positive:ch2Positive, negative:ch2Negative, pointColor:'#00c800', gaps:ch2Gaps, gapW:14,
  negStart:ch2NegStart, negEnd:ch2NegEnd, negTop:ch2NegTop, negBottom:ch2NegBottom,
  thrStart:ch2ThresholdStart, thrEnd:ch2ThresholdEnd, thrAmp:ch2ThresholdAmp,
  yLabelX:2461, shortYLabelX:2440, zeroYLabelX:2405
});
</script>
</body>
</html>
